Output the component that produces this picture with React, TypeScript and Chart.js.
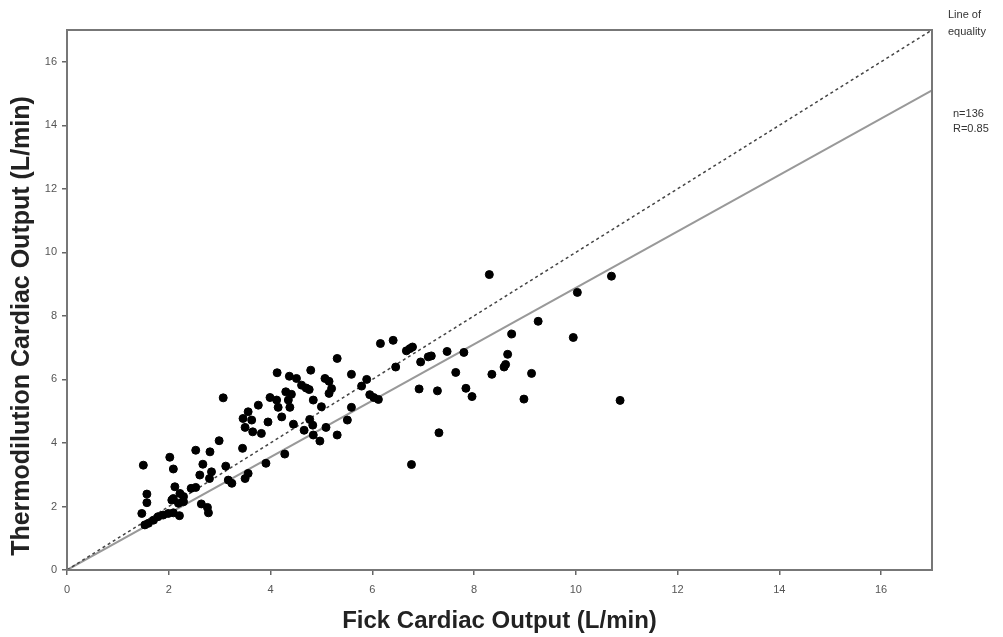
import React, { useEffect, useRef } from "react";
import { Chart, registerables } from "chart.js";

Chart.register(...registerables);

// Fick cardiac output (x) and thermodilution cardiac output (y), L/min
const fickCO: number[] = [
  8.3, 10.7, 10.03, 9.26, 8.74, 9.95, 8.66, 8.62, 8.59, 8.35, 9.13, 8.98, 10.87,
  6.16, 6.41, 6.67, 6.74, 6.79, 6.95, 7.1, 7.16, 7.47, 7.8, 6.46, 5.89, 5.79, 7.64,
  5.95, 6.03, 6.12, 6.92, 7.28, 7.84, 7.96, 7.31, 6.77,
  5.31, 4.13, 4.79, 4.37, 4.51, 5.07, 5.15, 5.59, 4.61, 4.7, 4.76, 5.2, 5.15,
  3.99, 4.12, 4.3, 4.41, 4.35, 4.84, 3.76, 5.0, 4.15, 4.38,
  5.59, 4.22, 3.95, 4.45, 4.77, 4.83, 4.66, 5.09, 5.51, 4.84, 4.97, 5.31, 3.82,
  4.28, 3.91,
  3.07, 3.56, 3.46, 3.5, 3.63, 3.65, 2.99, 2.53, 2.81, 3.45, 2.02,
  1.5, 2.09, 2.67, 2.61, 2.84, 2.8, 3.12, 3.17, 3.24, 3.5, 3.56, 2.12, 2.44, 2.53,
  2.09, 2.22, 2.29, 2.19, 2.29, 2.06, 1.57, 1.57, 1.47, 2.64, 2.76, 2.78, 2.21,
  1.79, 1.89, 1.99, 2.09, 1.7, 1.6, 1.53,
];
const thermoCO: number[] = [
  9.3, 9.25, 8.74, 7.83, 7.43, 7.32, 6.79, 6.47, 6.39, 6.16, 6.19, 5.38, 5.34,
  7.13, 7.23, 6.9, 6.97, 7.02, 6.55, 6.71, 6.74, 6.88, 6.85, 6.39, 6.0, 5.79, 6.22,
  5.52, 5.43, 5.37, 5.7, 5.64, 5.72, 5.46, 4.32, 3.32,
  6.66, 6.21, 6.29, 6.1, 6.03, 6.03, 5.94, 6.16, 5.82, 5.73, 5.68, 5.71, 5.56,
  5.43, 5.35, 5.61, 5.53, 5.35, 5.35, 5.19, 5.14, 5.12, 5.12,
  5.12, 4.82, 4.66, 4.59, 4.74, 4.56, 4.4, 4.49, 4.72, 4.25, 4.06, 4.25, 4.3,
  3.65, 3.36,
  5.42, 4.98, 4.77, 4.49, 4.72, 4.35, 4.07, 3.77, 3.72, 3.83, 3.55,
  3.3, 3.18, 3.33, 2.99, 3.09, 2.88, 3.27, 2.83, 2.73, 2.88, 3.04, 2.62, 2.57, 2.6,
  2.25, 2.41, 2.31, 2.1, 2.15, 2.2, 2.39, 2.12, 1.78, 2.08, 1.97, 1.8, 1.71,
  1.68, 1.73, 1.78, 1.8, 1.57, 1.47, 1.42,
];

// Line of equality and regression line end points
const equalityX = [0, 17];
const equalityY = [0, 17];
const regressionX = [0, 17];
const regressionY = [0.0, 15.1];

const xTicks = [0, 2, 4, 6, 8, 10, 12, 14, 16];
const yTicks = [0, 2, 4, 6, 8, 10, 12, 14, 16];

const xTitle = "Fick Cardiac Output (L/min)";
const yTitle = "Thermodilution Cardiac Output (L/min)";
const annotationLines = ["Line of", "equality"];
const statsLines = ["n=136", "R=0.85"];

const FONT = "Arial, 'Liberation Sans', sans-serif";

export default function App() {
  const canvasRef = useRef<HTMLCanvasElement | null>(null);

  useEffect(() => {
    document.body.style.margin = "0";
    const canvas = canvasRef.current;
    if (!canvas) return;

    const framePlugin = {
      id: "frameAndNotes",
      afterDraw(chart: any) {
        const { ctx, chartArea } = chart;
        ctx.save();
        ctx.strokeStyle = "#777";
        ctx.lineWidth = 2;
        ctx.strokeRect(
          chartArea.left,
          chartArea.top,
          chartArea.right - chartArea.left,
          chartArea.bottom - chartArea.top
        );
        ctx.fillStyle = "#333";
        ctx.font = "11px " + FONT;
        ctx.textBaseline = "middle";
        ctx.textAlign = "left";
        ctx.fillText(annotationLines[0], 948, 15);
        ctx.fillText(annotationLines[1], 948, 32);
        ctx.fillText(statsLines[0], 953, 114);
        ctx.fillText(statsLines[1], 953, 129);

        // y-axis title (placed slightly below the plot centre, as in the source)
        ctx.translate(22, 326);
        ctx.rotate(-Math.PI / 2);
        ctx.textAlign = "center";
        ctx.fillStyle = "#222";
        ctx.font = "bold 25px " + FONT;
        ctx.fillText(yTitle, 0, 0);
        ctx.restore();
      },
    };

    const points = fickCO.map((x, i) => ({ x, y: thermoCO[i] }));
    const eq = equalityX.map((x, i) => ({ x, y: equalityY[i] }));
    const reg = regressionX.map((x, i) => ({ x, y: regressionY[i] }));

    const tickFont = { size: 11, family: FONT };
    const gridCfg = {
      display: true,
      drawOnChartArea: false,
      drawTicks: true,
      tickLength: 5,
      color: "#666",
      lineWidth: 1.5,
    };

    const chart = new Chart(canvas, {
      type: "scatter",
      data: {
        datasets: [
          {
            label: "Data",
            data: points,
            backgroundColor: "#000",
            borderColor: "#000",
            borderWidth: 1,
            pointRadius: 4,
            pointStyle: "circle",
            order: 0,
          },
          {
            label: "Line of equality",
            data: eq,
            showLine: true,
            borderColor: "#444",
            borderWidth: 1.5,
            borderDash: [3, 3],
            pointRadius: 0,
            order: 1,
          } as any,
          {
            label: "Regression",
            data: reg,
            showLine: true,
            borderColor: "#999",
            borderWidth: 2,
            pointRadius: 0,
            order: 2,
          } as any,
        ],
      },
      options: {
        animation: false,
        responsive: false,
        layout: { padding: { left: 0, top: 30, right: 71, bottom: 0 } },
        plugins: {
          legend: { display: false },
          tooltip: { enabled: false },
          title: { display: false },
        },
        scales: {
          x: {
            type: "linear",
            min: 0,
            max: 17,
            afterBuildTicks: (scale: any) => {
              scale.ticks = xTicks.map((v) => ({ value: v }));
            },
            ticks: {
              color: "#555",
              font: tickFont,
              padding: 8,
              maxRotation: 0,
              includeBounds: false,
            },
            grid: gridCfg,
            border: { display: false },
            title: {
              display: true,
              text: xTitle,
              color: "#222",
              font: { size: 24, weight: "bold", family: FONT },
              padding: { top: 0, bottom: 1 },
            },
            afterFit: (scale: any) => {
              scale.height = 67;
            },
          },
          y: {
            type: "linear",
            min: 0,
            max: 17,
            afterBuildTicks: (scale: any) => {
              scale.ticks = yTicks.map((v) => ({ value: v }));
            },
            ticks: {
              color: "#555",
              font: tickFont,
              padding: 5,
              includeBounds: false,
            },
            grid: gridCfg,
            border: { display: false },
            title: { display: false },
            afterFit: (scale: any) => {
              scale.width = 67;
            },
          },
        },
      } as any,
      plugins: [framePlugin],
    });

    return () => {
      chart.destroy();
    };
  }, []);

  return (
    <div style={{ width: 1003, height: 637, background: "#fff" }}>
      <canvas ref={canvasRef} width={1003} height={637} />
    </div>
  );
}
